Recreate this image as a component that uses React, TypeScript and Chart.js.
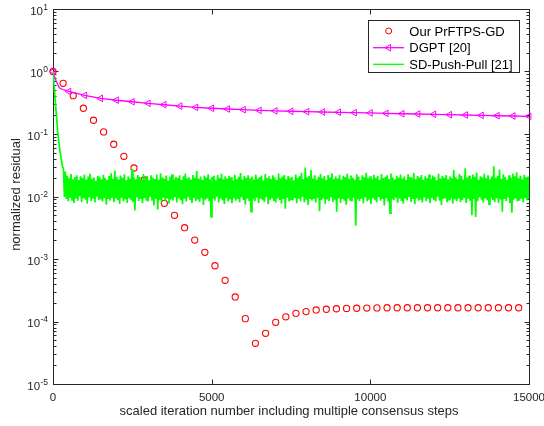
import React, { useEffect, useRef } from 'react';
import { Chart, registerables } from 'chart.js';

Chart.register(...registerables);

// ---------------- data ----------------
const seriesNames = ['Our PrFTPS-GD', 'DGPT [20]', 'SD-Push-Pull [21]'];

// Our PrFTPS-GD: one marker every 319 scaled iterations
const ourStep = 319;
const ourValues = [
  1.0, 0.647, 0.41, 0.258, 0.166, 0.108, 0.0685, 0.044, 0.0286, 0.0184,
  0.0118, 0.00778, 0.005, 0.00317, 0.00201, 0.00128, 0.00078, 0.000456, 0.000247, 0.000111,
  0.0000448, 0.0000648, 0.0000971, 0.000119, 0.000135, 0.000144, 0.000153, 0.000157, 0.00016, 0.000162,
  0.000163, 0.000164, 0.000165, 0.000166, 0.000166, 0.000166, 0.000166, 0.000166, 0.000166, 0.000166,
  0.000166, 0.000166, 0.000166, 0.000166, 0.000166, 0.000166, 0.000166,
];

// DGPT [20]
const dgptIter = [
  0, 100, 200, 300, 400, 500, 1000, 1500, 2000, 2500, 3000, 3500, 4000, 4500, 5000,
  5500, 6000, 6500, 7000, 7500, 8000, 8500, 9000, 9500, 10000, 10500, 11000, 11500,
  12000, 12500, 13000, 13500, 14000, 14500, 15000,
];
const dgptValues = [
  1.0, 0.70, 0.55, 0.515, 0.497, 0.48, 0.415, 0.372, 0.347, 0.328, 0.31, 0.294, 0.279, 0.267, 0.258,
  0.251, 0.245, 0.239, 0.234, 0.231, 0.2275, 0.225, 0.2225, 0.219, 0.217, 0.214, 0.211, 0.209,
  0.2066, 0.2037, 0.2014, 0.199, 0.196, 0.194, 0.192,
];
const dgptMarkerEvery = 500;

// SD-Push-Pull [21]: initial drop, then a noisy floor
const pushPullDropIter = [0, 50, 100, 150, 200, 250, 300];
const pushPullDropValues = [1.0, 0.47, 0.22, 0.105, 0.064, 0.042, 0.03];
const pushPullNoiseStart = 330;
const pushPullNoiseStep = 60;
// local maxima (x 1e-4)
const pushPullPeaks = [
  275, 250, 214, 196, 228, 188, 205, 219, 183, 210,
  197, 224, 186, 208, 231, 192, 201, 179, 215, 206,
  189, 222, 198, 184, 212, 235, 193, 260, 204, 187,
  217, 199, 226, 181, 209, 194, 272, 203, 188, 220,
  207, 185, 229, 196, 213, 182, 218, 200, 191, 224,
  186, 235, 202, 193, 216, 178, 209, 227, 190, 205,
  198, 219, 184, 211, 232, 195, 203, 187, 221, 199,
  255, 192, 208, 183, 217, 201, 226, 189, 206, 214,
  181, 220, 197, 230, 188, 210, 194, 215, 203, 179,
  223, 191, 207, 238, 185, 212, 200, 218, 196, 209,
  187, 225, 193, 204, 216, 180, 229, 198, 211, 190,
  219, 202, 184, 233, 195, 208, 221, 188, 213, 199,
  206, 182, 224, 197, 210, 239, 189, 292, 201, 215,
  265, 193, 218, 186, 207, 228, 196, 212, 183, 220,
  201, 236, 190, 209, 194, 223, 185, 214, 204, 231,
  192, 217, 199, 186, 226, 208, 181, 219, 203, 240,
  195, 211, 188, 222, 200, 214, 184, 229, 197, 206,
  218, 190, 234, 202, 187, 215, 199, 224, 193, 209,
  183, 227, 204, 196, 237, 189, 212, 201, 220, 185,
  210, 198, 225, 191, 216, 205, 182, 232, 194, 213,
  200, 221, 188, 209, 196, 266, 203, 190, 228, 214,
  186, 282, 199, 217, 193, 224, 207, 241, 185, 211,
  202, 230, 195, 218, 189, 208, 305, 197, 215, 270,
  192, 226, 204, 187, 219, 200, 233, 211, 245, 196,
  214, 188, 222, 203, 209,
];
// local minima (x 1e-4)
const pushPullTroughs = [
  98, 91, 84, 96, 88, 79, 93, 86, 101, 82,
  94, 89, 77, 97, 85, 92, 80, 99, 87, 90,
  83, 95, 74, 91, 86, 98, 81, 93, 88, 76,
  96, 84, 90, 79, 94, 87, 82, 60, 97, 85,
  91, 78, 95, 86, 83, 99, 88, 72, 92, 62,
  89, 81, 96, 84, 93, 77, 90, 86, 98, 80,
  94, 87, 75, 92, 83, 97, 88, 79, 95, 85,
  90, 82, 96, 73, 89, 93, 84, 47, 91, 86,
  99, 80, 92, 87, 76, 95, 83, 90, 78, 94,
  86, 91, 81, 97, 88, 74, 93, 85, 57, 90,
  84, 96, 79, 92, 87, 82, 98, 75, 89, 93,
  85, 80, 94, 88, 77, 91, 64, 96, 83, 90,
  87, 95, 78, 92, 84, 99, 81, 89, 73, 94,
  86, 91, 80, 96, 58, 88, 93, 76, 90, 85,
  97, 82, 89, 57, 94, 79, 91, 86, 74, 93,
  88, 83, 96, 34, 90, 85, 92, 78, 97, 84,
  89, 76, 94, 87, 81, 98, 86, 91, 72, 95,
  83, 54, 90, 88, 96, 79, 93, 85, 77, 92,
  87, 98, 82, 91, 75, 94, 86, 89, 80, 97,
  84, 92, 78, 95, 88, 83, 99, 86, 73, 91,
  94, 81, 89, 96, 77, 90, 85, 93, 82, 88,
  95, 79, 92, 86, 50, 91, 47, 84, 97, 89,
  80, 93, 87, 75, 96, 88, 82, 94, 79, 90,
  57, 91, 85, 97, 78, 55, 89, 93, 83, 86,
  92, 80, 95, 87, 90,
];

// axes
const xTicks = [0, 5000, 10000, 15000];
const yExponents = [-5, -4, -3, -2, -1, 0, 1];
const xTitle = 'scaled iteration number including multiple consensus steps';
const yTitle = 'normalized residual';

// ---------------- style ----------------
const FONT = "'Liberation Sans', Arial, Helvetica, sans-serif";
const AXIS = '#262626';
const RED = '#ff0000';
const MAGENTA = '#ff00ff';
const GREEN = '#00ff00';

function drawTriangleLeft(ctx: CanvasRenderingContext2D, x: number, y: number, r: number) {
  ctx.beginPath();
  ctx.moveTo(x - r, y);
  ctx.lineTo(x + r * 0.5, y - r * 0.866);
  ctx.lineTo(x + r * 0.5, y + r * 0.866);
  ctx.closePath();
  ctx.stroke();
}

const axesPlugin = {
  id: 'matlabAxes',
  beforeDatasetsDraw(chart: any) {
    const { ctx, chartArea: a, scales } = chart;
    const xs = scales.x;
    const ys = scales.y;
    ctx.save();
    ctx.strokeStyle = AXIS;
    ctx.lineWidth = 1;
    const L = Math.round(a.left) + 0.5;
    const R = Math.round(a.right) + 0.5;
    const T = Math.round(a.top) + 0.5;
    const B = Math.round(a.bottom) + 0.5;
    ctx.strokeRect(L, T, R - L, B - T);

    ctx.beginPath();
    for (const v of xTicks) {
      const px = Math.round(xs.getPixelForValue(v)) + 0.5;
      ctx.moveTo(px, B);
      ctx.lineTo(px, B - 5);
      ctx.moveTo(px, T);
      ctx.lineTo(px, T + 5);
    }
    for (const e of yExponents) {
      const py = Math.round(ys.getPixelForValue(Math.pow(10, e))) + 0.5;
      ctx.moveTo(L, py);
      ctx.lineTo(L + 5, py);
      ctx.moveTo(R, py);
      ctx.lineTo(R - 5, py);
      if (e < yExponents[yExponents.length - 1]) {
        for (let m = 2; m <= 9; m++) {
          const pm = Math.round(ys.getPixelForValue(m * Math.pow(10, e))) + 0.5;
          ctx.moveTo(L, pm);
          ctx.lineTo(L + 3, pm);
          ctx.moveTo(R, pm);
          ctx.lineTo(R - 3, pm);
        }
      }
    }
    ctx.stroke();

    // x tick labels
    ctx.fillStyle = AXIS;
    ctx.font = `11.5px ${FONT}`;
    ctx.textAlign = 'center';
    ctx.textBaseline = 'alphabetic';
    for (const v of xTicks) {
      ctx.fillText(String(v), xs.getPixelForValue(v), a.bottom + 17);
    }
    // y tick labels 10^e
    for (const e of yExponents) {
      const py = ys.getPixelForValue(Math.pow(10, e));
      const expText = e < 0 ? '-' + String(-e) : String(e);
      ctx.font = `8.5px ${FONT}`;
      const we = ctx.measureText(expText).width;
      const right = a.left - 5;
      ctx.textAlign = 'left';
      ctx.fillText(expText, right - we, py + 0.5);
      ctx.font = `11.5px ${FONT}`;
      ctx.textAlign = 'right';
      ctx.fillText('10', right - we - 0.3, py + 5.5);
    }
    // axis titles
    ctx.font = `13px ${FONT}`;
    ctx.textAlign = 'center';
    ctx.fillText(xTitle, (a.left + a.right) / 2 - 2, a.bottom + 31);
    ctx.save();
    ctx.translate(19.5, (a.top + a.bottom) / 2 - 2);
    ctx.rotate(-Math.PI / 2);
    ctx.fillText(yTitle, 0, 0);
    ctx.restore();
    ctx.restore();
  },
  afterDraw(chart: any) {
    const { ctx } = chart;
    const bx = 368.5, by = 20.5, bw = 151, bh = 52;
    ctx.save();
    ctx.fillStyle = '#ffffff';
    ctx.fillRect(bx, by, bw, bh);
    ctx.strokeStyle = AXIS;
    ctx.lineWidth = 1;
    ctx.strokeRect(bx, by, bw, bh);
    const rows = [31, 47.7, 64.3];
    const x0 = 373, x1 = 404, xm = 388.7;
    // row 1: circle
    ctx.strokeStyle = RED;
    ctx.beginPath();
    ctx.arc(xm, rows[0], 3, 0, Math.PI * 2);
    ctx.stroke();
    // row 2: line + triangle
    ctx.strokeStyle = MAGENTA;
    ctx.lineWidth = 1.3;
    ctx.beginPath();
    ctx.moveTo(x0, rows[1]);
    ctx.lineTo(x1, rows[1]);
    ctx.stroke();
    ctx.lineWidth = 1;
    drawTriangleLeft(ctx, xm, rows[1], 3.8);
    // row 3: line
    ctx.strokeStyle = GREEN;
    ctx.lineWidth = 1.3;
    ctx.beginPath();
    ctx.moveTo(x0, rows[2]);
    ctx.lineTo(x1, rows[2]);
    ctx.stroke();
    ctx.fillStyle = '#000000';
    ctx.font = `13px ${FONT}`;
    ctx.textAlign = 'left';
    ctx.textBaseline = 'alphabetic';
    seriesNames.forEach((n, i) => ctx.fillText(n, 409.3, rows[i] + 4.6));
    ctx.restore();
  },
};

export default function App() {
  const ref = useRef<HTMLCanvasElement | null>(null);

  useEffect(() => {
    if (!ref.current) return;
    const ourData = ourValues.map((v, i) => ({ x: i * ourStep, y: v }));
    const dgptData = dgptIter.map((x, i) => ({ x, y: dgptValues[i] }));
    const ppData: { x: number; y: number }[] = pushPullDropIter.map((x, i) => ({ x, y: pushPullDropValues[i] }));
    pushPullPeaks.forEach((p, j) => {
      const x = pushPullNoiseStart + j * pushPullNoiseStep;
      ppData.push({ x, y: p * 1e-4 });
      ppData.push({ x: x + pushPullNoiseStep / 2, y: pushPullTroughs[j] * 1e-4 });
    });

    const chart = new Chart(ref.current, {
      type: 'scatter',
      data: {
        datasets: [
          {
            label: seriesNames[0],
            data: ourData,
            showLine: false,
            pointStyle: 'circle',
            pointRadius: 3.1,
            pointBorderWidth: 1.1,
            borderColor: RED,
            pointBorderColor: RED,
            backgroundColor: 'rgba(0,0,0,0)',
            pointBackgroundColor: 'rgba(0,0,0,0)',
            clip: false,
            order: 3,
          } as any,
          {
            label: seriesNames[1],
            data: dgptData,
            showLine: true,
            borderColor: MAGENTA,
            borderWidth: 1.3,
            tension: 0,
            pointStyle: 'triangle',
            rotation: -90,
            pointRadius: (c: any) => (c.raw && c.raw.x % dgptMarkerEvery === 0 ? 3.8 : 0),
            pointBorderWidth: 1,
            pointBorderColor: MAGENTA,
            backgroundColor: 'rgba(0,0,0,0)',
            pointBackgroundColor: 'rgba(0,0,0,0)',
            clip: false,
            order: 2,
          } as any,
          {
            label: seriesNames[2],
            data: ppData,
            showLine: true,
            borderColor: GREEN,
            borderWidth: 1.7,
            borderJoinStyle: 'miter',
            tension: 0,
            pointRadius: 0,
            backgroundColor: 'rgba(0,0,0,0)',
            order: 1,
          } as any,
        ],
      },
      options: {
        animation: false,
        responsive: false,
        events: [],
        layout: { padding: { left: 53, right: 15, top: 9, bottom: 42 } },
        plugins: { legend: { display: false }, tooltip: { enabled: false } },
        scales: {
          x: { type: 'linear', min: 0, max: 15000, display: false },
          y: { type: 'logarithmic', min: 1e-5, max: 10, display: false },
        },
      },
      plugins: [axesPlugin],
    } as any);
    return () => chart.destroy();
  }, []);

  return (
    <div style={{ position: 'fixed', left: 0, top: 0, width: 544, height: 426, background: '#ffffff' }}>
      <canvas ref={ref} width={544} height={426} style={{ display: 'block' }} />
    </div>
  );
}
